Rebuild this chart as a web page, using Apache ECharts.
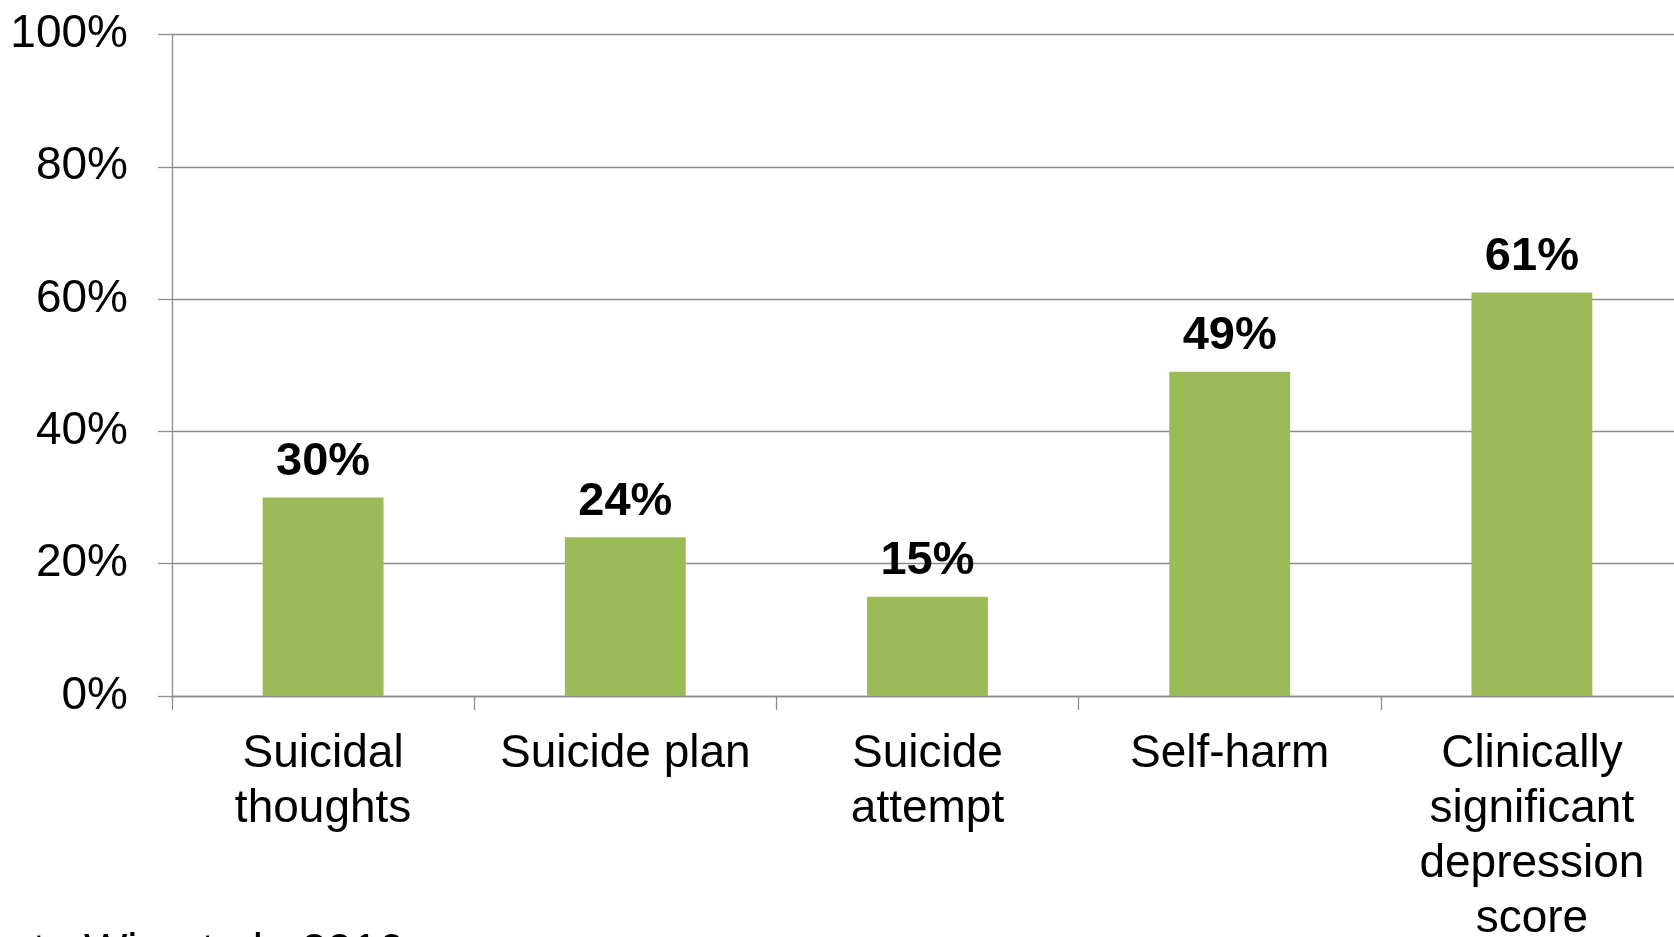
<!DOCTYPE html>
<html>
<head>
<meta charset="utf-8">
<script src="https://cdn.jsdelivr.net/npm/echarts@6/dist/echarts.min.js"></script>
<style>
  html, body { margin: 0; padding: 0; background: #ffffff; }
  #chart { width: 1674px; height: 937px; }
</style>
</head>
<body>
<div id="chart"></div>
<script>
// Outcome categories (axis labels, line breaks as drawn)
const categories = [
  'Suicidal\nthoughts',
  'Suicide plan',
  'Suicide\nattempt',
  'Self-harm',
  'Clinically\nsignificant\ndepression\nscore'
];
// Share of respondents, percent
const values = [30, 24, 15, 49, 61];
// Value axis range and step (percent)
const yMin = 0;
const yMax = 100;
const yStep = 20;
const sourceNote = 'Data Win et al., 2016';

const FONT = '"Liberation Sans", Arial, Helvetica, sans-serif';
const GRID_GREY = '#8c8c8c';

const chart = echarts.init(document.getElementById('chart'), null, { renderer: 'canvas' });

chart.setOption({
  backgroundColor: '#ffffff',
  animation: false,
  // plot area runs slightly past the right edge of the canvas; labels may overflow
  grid: {
    left: 172, right: -9, top: 34.5, bottom: 241,
    containLabel: false,
    outerBoundsMode: 'none'
  },
  xAxis: {
    type: 'category',
    data: categories,
    axisLine: { show: true, lineStyle: { color: GRID_GREY, width: 1.3 } },
    axisTick: { show: true, length: 14, lineStyle: { color: GRID_GREY, width: 1.3 } },
    axisLabel: {
      interval: 0,
      margin: 31,
      color: '#000000',
      fontFamily: FONT,
      fontSize: 46,
      lineHeight: 55
    }
  },
  yAxis: {
    type: 'value',
    min: yMin,
    max: yMax,
    interval: yStep,
    axisLine: { show: true, lineStyle: { color: GRID_GREY, width: 1.3 } },
    axisTick: { show: true, length: 14, lineStyle: { color: GRID_GREY, width: 1.3 } },
    splitLine: { show: true, lineStyle: { color: GRID_GREY, width: 1.3 } },
    axisLabel: {
      margin: 44,
      padding: [8, 0, 0, 0],
      color: '#000000',
      fontFamily: FONT,
      fontSize: 46,
      formatter: '{value}%'
    }
  },
  series: [{
    type: 'bar',
    data: values,
    barWidth: '40%',
    itemStyle: { color: '#9bbb59' },
    label: {
      show: true,
      position: 'top',
      distance: 12,
      color: '#000000',
      fontFamily: FONT,
      fontWeight: 'bold',
      fontSize: 47,
      formatter: p => p.value + '%'
    }
  }],
  graphic: [{
    type: 'text',
    left: -26,
    top: 930,
    silent: true,
    style: {
      text: sourceNote,
      fill: '#000000',
      font: '46px ' + FONT
    }
  }]
});
</script>
</body>
</html>
